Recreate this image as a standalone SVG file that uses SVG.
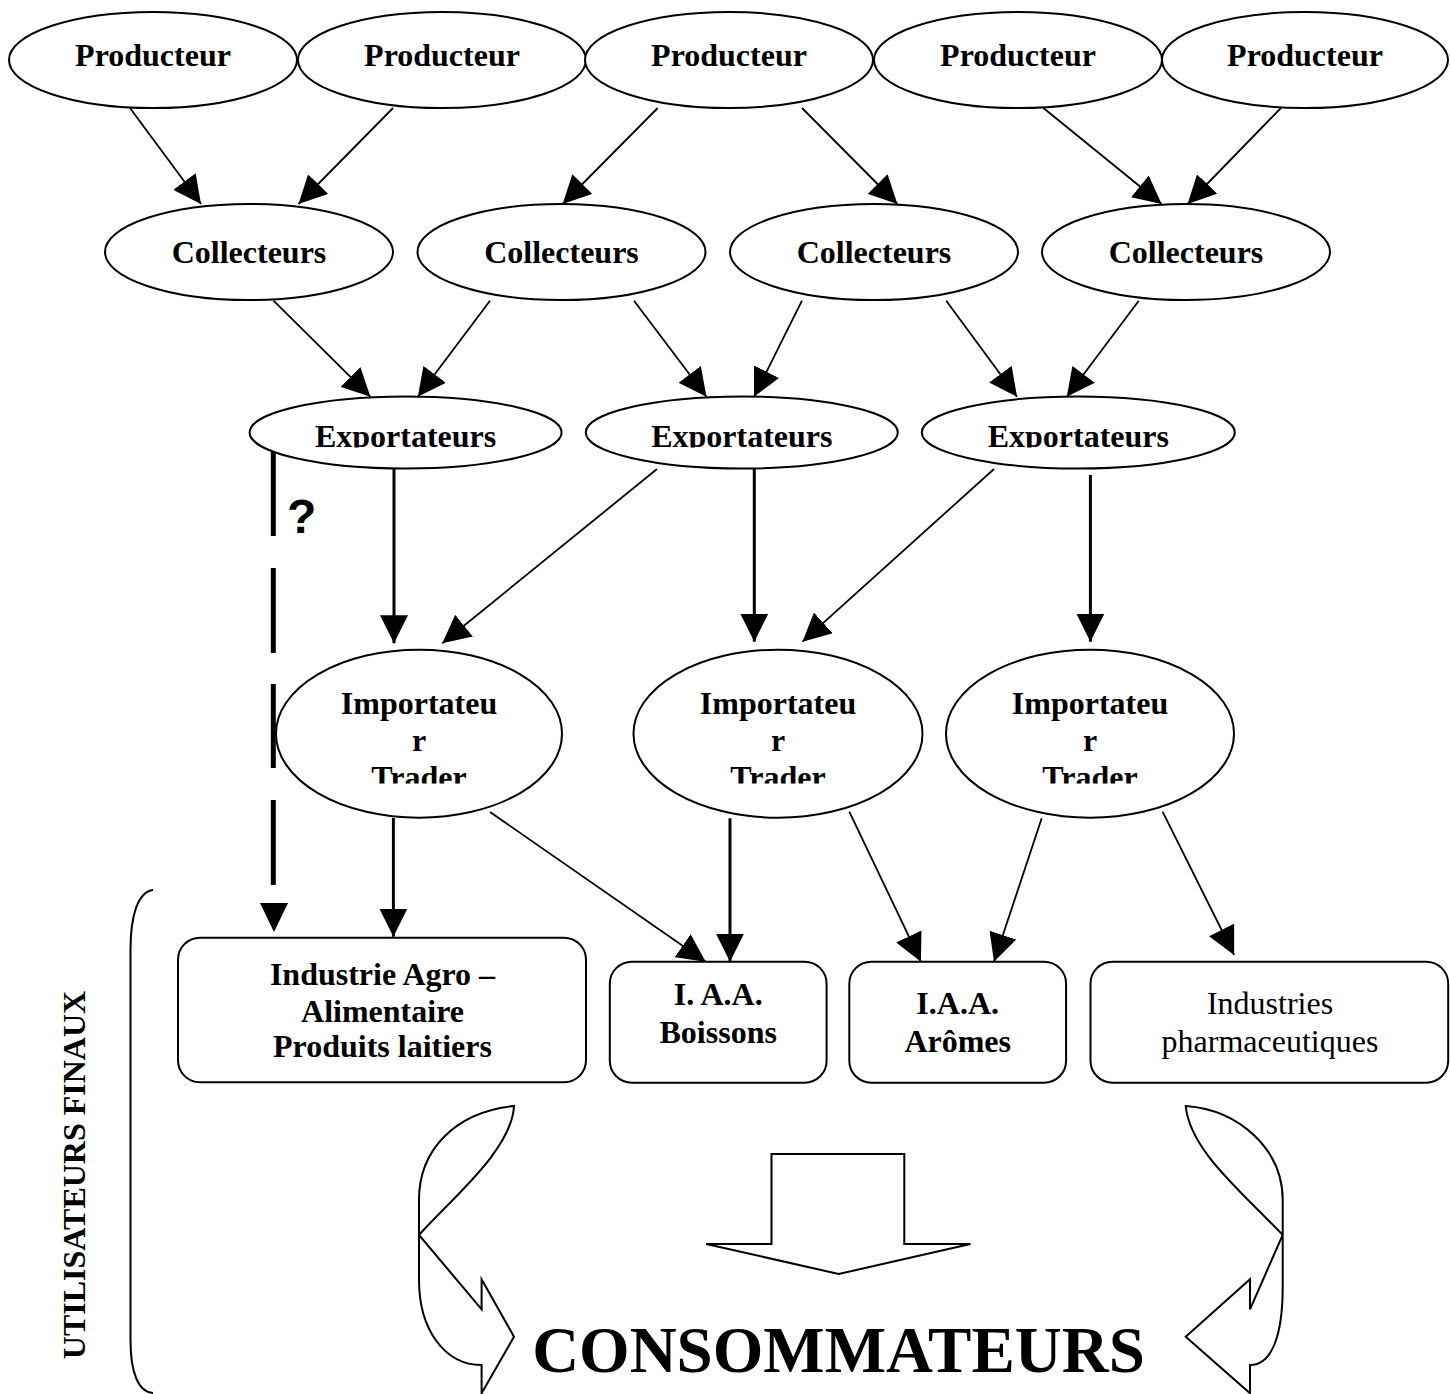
<svg xmlns="http://www.w3.org/2000/svg" width="1450" height="1394" viewBox="0 0 1450 1394">
<style>
.n{fill:#fff;stroke:#000;stroke-width:2}
.t{font-family:"Liberation Serif","Times New Roman",serif;font-weight:bold;font-size:32px;fill:#000;text-anchor:middle}
.r{font-family:"Liberation Serif","Times New Roman",serif;font-size:32px;fill:#000;text-anchor:middle}
.e{fill:none;stroke:#000;stroke-width:1.8;marker-end:url(#ah)}
.k{fill:none;stroke:#000;stroke-width:3;marker-end:url(#ah)}
.d{fill:none;stroke:#000;stroke-width:5}
.s{fill:#fff;stroke:#000;stroke-width:2;stroke-linejoin:miter}
</style>
<defs>
<marker id="ah" markerUnits="userSpaceOnUse" markerWidth="28" markerHeight="28" viewBox="0 0 28 28" refX="28" refY="14" orient="auto">
<path d="M0,0 L28,14 L0,28 Z" fill="#000"/>
</marker>
<clipPath id="clipE" clipPathUnits="userSpaceOnUse"><rect x="0" y="0" width="1450" height="447.5"/></clipPath>
<clipPath id="clipI" clipPathUnits="userSpaceOnUse"><rect x="0" y="0" width="1450" height="783.5"/></clipPath>
</defs>
<rect width="1450" height="1394" fill="#fff"/>

<g id="connectors">
<path class="e" d="M130,108 L201,204"/>
<path class="e" d="M393,108 L298.5,204"/>
<path class="e" d="M657.7,108 L562.6,204"/>
<path class="e" d="M802,108 L897.4,204"/>
<path class="e" d="M1043.4,108 L1161.6,204"/>
<path class="e" d="M1280.9,108 L1187.6,204"/>
<path class="e" d="M273.5,300.7 L370.4,396.7"/>
<path class="e" d="M490,300.7 L417.8,396.7"/>
<path class="e" d="M634,300.7 L706.5,396.7"/>
<path class="e" d="M802,300.7 L754,396.7"/>
<path class="e" d="M946.2,300.7 L1017,396.7"/>
<path class="e" d="M1138.8,300.7 L1066.8,396.7"/>
<path class="e" d="M657,469 L442.3,643.3"/>
<path class="e" d="M994,469 L802.5,641.7"/>
<path class="e" d="M490,812 L705.7,961.7"/>
<path class="e" d="M849.3,811.7 L920.9,961.7"/>
<path class="e" d="M1041.7,818.3 L994,961.7"/>
<path class="e" d="M1162.6,811.7 L1234.1,955"/>
<path class="k" d="M394,469 L394,643.3"/>
<path class="k" d="M754.3,469 L754.3,641.7"/>
<path class="k" d="M1090.4,475 L1090.4,641.7"/>
<path class="k" d="M393.4,818 L393.4,936.7"/>
<path class="k" d="M730,818.3 L730,961.7"/>
<path class="d" d="M273.3,452 V536 M273.3,568 V653 M273.3,684 V768 M273.3,800 V885"/>
<polygon points="260,903 288,903 274,932" fill="#000"/>
</g>

<g id="producteur1"><ellipse class="n" cx="153" cy="60" rx="144" ry="48"/><text class="t" x="153" y="66">Producteur</text></g>
<g id="producteur2"><ellipse class="n" cx="442" cy="60" rx="144" ry="48"/><text class="t" x="442" y="66">Producteur</text></g>
<g id="producteur3"><ellipse class="n" cx="729" cy="60" rx="144" ry="48"/><text class="t" x="729" y="66">Producteur</text></g>
<g id="producteur4"><ellipse class="n" cx="1018" cy="60" rx="144" ry="48"/><text class="t" x="1018" y="66">Producteur</text></g>
<g id="producteur5"><ellipse class="n" cx="1305" cy="60" rx="143" ry="48"/><text class="t" x="1305" y="66">Producteur</text></g>

<g id="collecteurs1"><ellipse class="n" cx="249" cy="252" rx="144" ry="48"/><text class="t" x="249" y="263">Collecteurs</text></g>
<g id="collecteurs2"><ellipse class="n" cx="561.5" cy="252" rx="144" ry="48"/><text class="t" x="561.5" y="263">Collecteurs</text></g>
<g id="collecteurs3"><ellipse class="n" cx="874" cy="252" rx="144" ry="48"/><text class="t" x="874" y="263">Collecteurs</text></g>
<g id="collecteurs4"><ellipse class="n" cx="1186" cy="252" rx="144" ry="48"/><text class="t" x="1186" y="263">Collecteurs</text></g>

<g id="exportateurs1"><ellipse class="n" cx="405.6" cy="432.5" rx="156" ry="36"/><text class="t" x="405.6" y="447" clip-path="url(#clipE)">Exportateurs</text></g>
<g id="exportateurs2"><ellipse class="n" cx="741.8" cy="432.5" rx="156" ry="36"/><text class="t" x="741.8" y="447" clip-path="url(#clipE)">Exportateurs</text></g>
<g id="exportateurs3"><ellipse class="n" cx="1078.3" cy="432.5" rx="156.5" ry="36"/><text class="t" x="1078.3" y="447" clip-path="url(#clipE)">Exportateurs</text></g>

<g id="importateur1"><ellipse class="n" cx="419" cy="733.7" rx="143" ry="84"/><text class="t" clip-path="url(#clipI)"><tspan x="419" y="713.5">Importateu</tspan><tspan x="419" y="750.5">r</tspan><tspan x="419" y="787.5">Trader</tspan></text></g>
<g id="importateur2"><ellipse class="n" cx="778" cy="733.7" rx="144.5" ry="84"/><text class="t" clip-path="url(#clipI)"><tspan x="778" y="713.5">Importateu</tspan><tspan x="778" y="750.5">r</tspan><tspan x="778" y="787.5">Trader</tspan></text></g>
<g id="importateur3"><ellipse class="n" cx="1090" cy="733.7" rx="144" ry="84"/><text class="t" clip-path="url(#clipI)"><tspan x="1090" y="713.5">Importateu</tspan><tspan x="1090" y="750.5">r</tspan><tspan x="1090" y="787.5">Trader</tspan></text></g>

<g id="iaa-laitiers"><rect class="n" x="178" y="937.7" width="408" height="144.6" rx="22" ry="22"/><text class="t"><tspan x="382.5" y="985">Industrie Agro –</tspan><tspan x="382.5" y="1021.5">Alimentaire</tspan><tspan x="382.5" y="1056.5">Produits laitiers</tspan></text></g>
<g id="iaa-boissons"><rect class="n" x="609.8" y="961.7" width="216.8" height="121" rx="22" ry="22"/><text class="t"><tspan x="718.2" y="1005">I. A.A.</tspan><tspan x="718.2" y="1043">Boissons</tspan></text></g>
<g id="iaa-aromes"><rect class="n" x="849.3" y="961.7" width="216.8" height="121" rx="22" ry="22"/><text class="t"><tspan x="957.7" y="1013.5">I.A.A.</tspan><tspan x="957.7" y="1051.5">Arômes</tspan></text></g>
<g id="pharma"><rect class="n" x="1090.5" y="961.7" width="357.7" height="121" rx="22" ry="22"/><text class="r"><tspan x="1270" y="1014">Industries</tspan><tspan x="1270" y="1052">pharmaceutiques</tspan></text></g>

<g id="question"><text x="287" y="533" style="font-family:'Liberation Sans',Arial,sans-serif;font-weight:bold;font-size:48px">?</text></g>

<g id="utilisateurs-finaux">
<path d="M153,890 C138,892 130.5,915 130.5,950 L130.5,1340 C130.5,1372 138,1392 153,1393" fill="none" stroke="#000" stroke-width="2"/>
<text class="t" transform="translate(85,1175) rotate(-90)" x="0" y="0">UTILISATEURS FINAUX</text>
</g>

<g id="fleche-gauche"><path class="s" d="M514,1106 C455,1112 419,1150 419,1200 L419,1280 C419,1330 445,1365 481.6,1365 L481.6,1393.3 L514,1336.7 L481.6,1279.3 L481.6,1309.3 L419,1235 C450,1200 512,1150 514,1106 Z"/></g>
<g id="fleche-droite"><path class="s" d="M1185.7,1106 C1240,1110 1282.7,1150 1282.7,1200 L1282.7,1287 C1282.7,1335 1272,1365 1250,1365 L1250,1393.3 L1185.7,1336.7 L1250,1279.3 L1250,1309.3 L1282.7,1235 C1240,1190 1190,1150 1185.7,1106 Z"/></g>
<g id="fleche-centre"><path class="s" d="M771.5,1154 L904.3,1154 L904.3,1244 L970.4,1244 L838.7,1274 L706.2,1244 L771.5,1244 Z"/></g>

<g id="consommateurs"><text class="t" x="838.5" y="1372" style="font-size:65px">CONSOMMATEURS</text></g>
</svg>
